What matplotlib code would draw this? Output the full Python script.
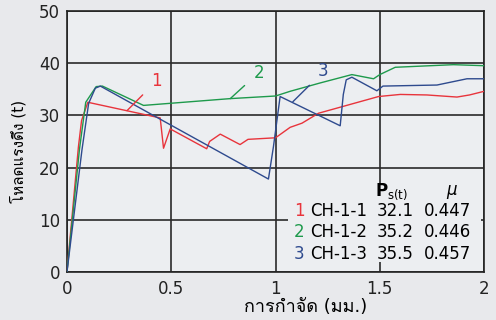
import matplotlib
matplotlib.use("Agg")
import matplotlib.pyplot as plt
from matplotlib import font_manager
from matplotlib.ft2font import FT2Font
from matplotlib.patches import Rectangle

# ข้อมูลที่อ่านจากกราฟ
x1 = [0, 0.055, 0.07, 0.10, 0.447, 0.463, 0.495, 0.67, 0.684, 0.735, 0.83, 0.868,
      1.0, 1.07, 1.127, 1.206, 1.494, 1.598, 1.726, 1.87, 1.93, 2.0]
y1 = [0, 24.0, 29.0, 32.5, 29.5, 23.7, 27.4, 23.6, 25.0, 26.4, 24.4, 25.4,
      25.7, 27.7, 28.5, 30.4, 33.6, 34.0, 33.9, 33.5, 33.9, 34.6]

x2 = [0, 0.06, 0.09, 0.14, 0.17, 0.367, 0.783, 1.0, 1.07, 1.214, 1.366, 1.47,
      1.5, 1.574, 1.853, 2.0]
y2 = [0, 23.5, 32.5, 35.5, 35.6, 31.9, 33.2, 33.7, 34.6, 36.2, 37.8, 37.0,
      37.8, 39.2, 39.7, 39.5]

x3 = [0, 0.072, 0.104, 0.136, 0.16, 0.966, 0.99, 1.022, 1.31, 1.325, 1.339, 1.366,
      1.486, 1.515, 1.774, 1.918, 2.0]
y3 = [0, 23.4, 32.3, 35.2, 35.6, 17.8, 24.0, 33.6, 28.0, 34.0, 36.8, 37.3,
      34.7, 35.6, 35.8, 37.0, 37.0]

specimens = ["CH-1-1", "CH-1-2", "CH-1-3"]
ps_values = ["32.1", "35.2", "35.5"]
mu_values = ["0.447", "0.446", "0.457"]

red, green, blue = "#e8343c", "#1e9a4c", "#2e4a8e"
bg = "#eceef1"


def thai_font():
    # หาฟอนต์ที่มีตัวอักษรไทย
    for f in font_manager.fontManager.ttflist:
        try:
            if 0x0E42 in FT2Font(f.fname).get_charmap():
                return f.name
        except Exception:
            pass
    return "DejaVu Sans"


plt.rcParams["font.family"] = ["DejaVu Sans", thai_font()]

fig = plt.figure(figsize=(4.96, 3.2), dpi=100, facecolor="#e8e9ec")
ax = fig.add_axes([0.135, 0.15, 0.841, 0.816])
ax.set_facecolor(bg)

ax.plot(x1, y1, color=red, lw=1.0, zorder=4)
ax.plot(x2, y2, color=green, lw=1.0, zorder=4)
ax.plot(x3, y3, color=blue, lw=1.0, zorder=4)

ax.set_xlim(0, 2)
ax.set_ylim(0, 50)
ax.set_xticks([0, 0.5, 1, 1.5, 2])
ax.set_xticklabels(["0", "0.5", "1", "1.5", "2"])
ax.set_yticks(range(0, 51, 10))
ax.tick_params(length=0, labelsize=12, colors="#222222")
ax.tick_params(axis="x", pad=6)
ax.tick_params(axis="y", pad=5)
ax.grid(True, color="#2a2a2a", lw=1.2)
ax.set_axisbelow(True)
for s in ax.spines.values():
    s.set_color("#222222")
    s.set_linewidth(1.2)

# ป้ายหมายเลขเส้น
for txt, col, tx, ty, lx, ly in [("1", red, 0.43, 36.6, 0.288, 30.9),
                                  ("2", green, 0.92, 38.2, 0.783, 33.2),
                                  ("3", blue, 1.23, 38.4, 1.083, 32.6)]:
    ax.annotate(txt, xy=(lx, ly), xytext=(tx, ty), color=col, fontsize=12,
                ha="center", va="center", zorder=5,
                arrowprops=dict(arrowstyle="-", color=col, lw=1.0,
                                shrinkA=6, shrinkB=0))

# ตารางค่า
ax.add_patch(Rectangle((1.06, 2.0), 0.925, 15.0, facecolor=bg, edgecolor="none", zorder=2))
ax.text(1.558, 15.3, r"$\mathbf{P}_{\mathrm{s(t)}}$", fontsize=12, ha="center", va="center", zorder=3)
ax.text(1.846, 15.3, r"$\mu$", fontsize=12, ha="center", va="center", zorder=3)
row_y = [11.6, 7.65, 3.5]
for i, col in enumerate([red, green, blue]):
    ax.text(1.114, row_y[i], str(i + 1), color=col, fontsize=12, ha="center", va="center", zorder=3)
    ax.text(1.164, row_y[i], specimens[i], fontsize=12, ha="left", va="center", zorder=3)
    ax.text(1.485, row_y[i], ps_values[i], fontsize=12, ha="left", va="center", zorder=3)
    ax.text(1.712, row_y[i], mu_values[i], fontsize=12, ha="left", va="center", zorder=3)

ax.set_xlabel("การกำจัด (มม.)", fontsize=13)
ax.xaxis.set_label_coords((306 - 67) / 417, -0.1)
ax.set_ylabel("โหลดแรงดึง (t)", fontsize=11)
ax.yaxis.set_label_coords(-0.098, (272 - 151) / 261)

fig.savefig("out.png", dpi=100, facecolor=fig.get_facecolor())
